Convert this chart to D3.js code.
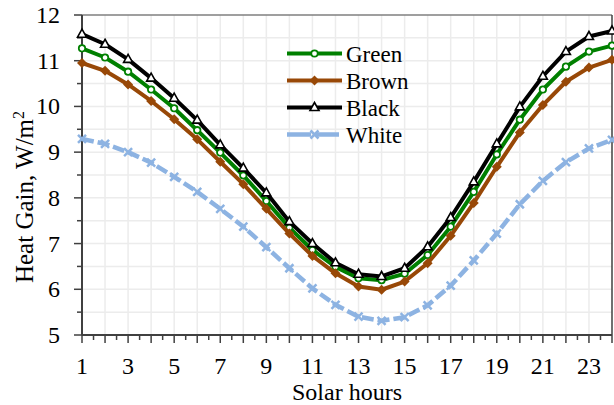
<!DOCTYPE html>
<html>
<head>
<meta charset="utf-8">
<script src="https://cdn.jsdelivr.net/npm/d3@7"></script>
<style>
  html, body { margin: 0; padding: 0; background: #fff; }
  text { font-family: "Liberation Serif", "Times New Roman", serif; fill: #000; }
</style>
</head>
<body>
<svg id="chart" width="614" height="405"></svg>
<script>
// Solar hours on the x axis
const hours = [1, 2, 3, 4, 5, 6, 7, 8, 9, 10, 11, 12, 13, 14, 15, 16, 17, 18, 19, 20, 21, 22, 23, 24];
// Heat gain (W/m²) per roof colour
const green = [11.27, 11.07, 10.76, 10.37, 9.96, 9.48, 8.99, 8.49, 7.93, 7.35, 6.86, 6.49, 6.24, 6.20, 6.34, 6.75, 7.37, 8.13, 8.95, 9.71, 10.37, 10.87, 11.20, 11.33];
const brown = [10.95, 10.78, 10.48, 10.12, 9.72, 9.28, 8.79, 8.30, 7.76, 7.22, 6.73, 6.35, 6.06, 5.99, 6.17, 6.57, 7.17, 7.89, 8.68, 9.43, 10.03, 10.54, 10.85, 11.02];
const black = [11.58, 11.36, 11.03, 10.62, 10.18, 9.70, 9.16, 8.65, 8.11, 7.48, 7.00, 6.58, 6.33, 6.28, 6.46, 6.93, 7.57, 8.35, 9.18, 9.99, 10.66, 11.20, 11.53, 11.65];
const white = [9.29, 9.18, 9.00, 8.77, 8.46, 8.13, 7.76, 7.37, 6.92, 6.46, 6.02, 5.66, 5.40, 5.31, 5.39, 5.65, 6.08, 6.63, 7.22, 7.86, 8.37, 8.78, 9.08, 9.27];
const seriesNames = ["Green", "Brown", "Black", "White"];
const yTicks = [5, 6, 7, 8, 9, 10, 11, 12];
const xTickLabels = [1, 3, 5, 7, 9, 11, 13, 15, 17, 19, 21, 23];

const svg = d3.select("#chart");
const plotLeft = 82, plotRight = 612, plotTop = 15, plotBottom = 335;

const x = d3.scaleLinear().domain([1, 24]).range([plotLeft, plotRight]);
const y = d3.scaleLinear().domain([5, 12]).range([plotBottom, plotTop]);

// Gridlines
const grid = svg.append("g");
grid.selectAll("line.h").data(d3.range(5.5, 12, 0.5)).join("line")
  .attr("x1", plotLeft).attr("x2", plotRight)
  .attr("y1", d => y(d)).attr("y2", d => y(d))
  .attr("stroke", "#ececec").attr("stroke-width", 1.5);
grid.selectAll("line.v").data(d3.range(2, 24)).join("line")
  .attr("x1", d => x(d)).attr("x2", d => x(d))
  .attr("y1", plotTop).attr("y2", plotBottom)
  .attr("stroke", "#ececec").attr("stroke-width", 1.5);

// Frame: top and right edges
svg.append("line").attr("x1", plotLeft).attr("x2", plotRight).attr("y1", plotTop).attr("y2", plotTop)
  .attr("stroke", "#7f7f7f").attr("stroke-width", 1.5);
svg.append("line").attr("x1", plotRight).attr("x2", plotRight).attr("y1", plotTop).attr("y2", plotBottom)
  .attr("stroke", "#404040").attr("stroke-width", 1.5);

// Axes
const axisColor = "#404040";
const xAxis = svg.append("g").attr("transform", `translate(0,${plotBottom})`);
xAxis.append("line").attr("x1", plotLeft).attr("x2", plotRight).attr("stroke", axisColor).attr("stroke-width", 2);
xAxis.selectAll("line.t").data(d3.range(1, 24.01, 0.5)).join("line")
  .attr("x1", d => x(d)).attr("x2", d => x(d))
  .attr("y1", 0).attr("y2", d => Number.isInteger(d) ? 8 : 5)
  .attr("stroke", axisColor).attr("stroke-width", 1.5);
xAxis.selectAll("text").data(xTickLabels).join("text")
  .attr("x", d => x(d)).attr("y", 39)
  .attr("text-anchor", "middle").attr("font-size", 24)
  .text(d => d);

const yAxis = svg.append("g").attr("transform", `translate(${plotLeft},0)`);
yAxis.append("line").attr("y1", plotTop).attr("y2", plotBottom).attr("stroke", axisColor).attr("stroke-width", 2);
yAxis.selectAll("line.t").data(d3.range(5, 12.01, 0.5)).join("line")
  .attr("y1", d => y(d)).attr("y2", d => y(d))
  .attr("x1", d => Number.isInteger(d) ? -8 : -5).attr("x2", 0)
  .attr("stroke", axisColor).attr("stroke-width", 1.5);
yAxis.selectAll("text").data(yTicks).join("text")
  .attr("x", -22).attr("y", d => y(d) + 8)
  .attr("text-anchor", "end").attr("font-size", 24)
  .text(d => d);

// Axis titles
svg.append("text").attr("x", 347).attr("y", 400)
  .attr("text-anchor", "middle").attr("font-size", 24).text("Solar hours");
const yt = svg.append("text")
  .attr("transform", "translate(33,197) rotate(-90)")
  .attr("text-anchor", "middle").attr("font-size", 25);
yt.append("tspan").text("Heat Gain, W/m");
yt.append("tspan").attr("dy", -9).attr("font-size", 16).text("2");

// Series
const styles = {
  Green: { values: green, color: "#008000", width: 4, dash: null, marker: "circle" },
  Brown: { values: brown, color: "#984807", width: 4, dash: null, marker: "diamond" },
  Black: { values: black, color: "#000000", width: 4, dash: null, marker: "triangle" },
  White: { values: white, color: "#8db3e2", width: 4.5, dash: "12,4", marker: "x" }
};

function drawMarker(g, type, color) {
  if (type === "circle") {
    g.append("circle").attr("r", 3.2).attr("fill", "#fff").attr("stroke", color).attr("stroke-width", 1.8);
  } else if (type === "diamond") {
    g.append("path").attr("d", "M0,-5L5,0L0,5L-5,0Z").attr("fill", color);
  } else if (type === "triangle") {
    g.append("path").attr("d", "M0,-5L4.5,3L-4.5,3Z").attr("fill", "#fff").attr("stroke", color).attr("stroke-width", 1.6);
  } else {
    g.append("path").attr("d", "M-4,-4L4,4M-4,4L4,-4").attr("stroke", color).attr("stroke-width", 2.5);
  }
}

const line = d3.line().x((d, i) => x(hours[i])).y(d => y(d));

seriesNames.forEach(name => {
  const s = styles[name];
  const g = svg.append("g");
  g.append("path").datum(s.values)
    .attr("d", line).attr("fill", "none")
    .attr("stroke", s.color).attr("stroke-width", s.width)
    .attr("stroke-dasharray", s.dash).attr("stroke-linejoin", "round");
  s.values.forEach((v, i) => {
    const m = g.append("g").attr("transform", `translate(${x(hours[i])},${y(v)})`);
    drawMarker(m, s.marker, s.color);
  });
});

// Legend
const legend = svg.append("g");
seriesNames.forEach((name, i) => {
  const s = styles[name];
  const ly = 53.5 + i * 27;
  legend.append("line").attr("x1", 287).attr("x2", 342).attr("y1", ly).attr("y2", ly)
    .attr("stroke", s.color).attr("stroke-width", s.width)
    .attr("stroke-dasharray", s.dash ? "24,4" : null);
  const m = legend.append("g").attr("transform", `translate(314.5,${ly})`);
  drawMarker(m, s.marker, s.color);
  legend.append("text").attr("x", 346).attr("y", ly + 8)
    .attr("font-size", 23).text(name);
});
</script>
</body>
</html>
